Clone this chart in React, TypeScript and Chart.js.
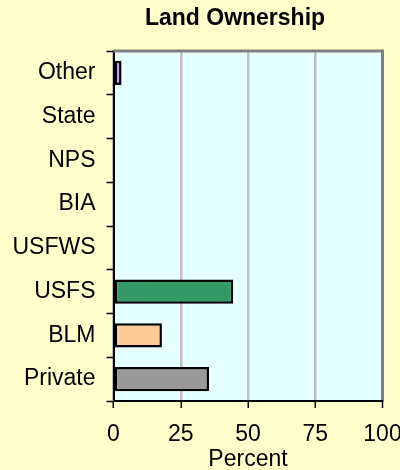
import React, { useEffect, useRef } from "react";
import { Chart, registerables } from "chart.js";

Chart.register(...registerables);

// ---- data ----
const categories = ["Private", "BLM", "USFS", "USFWS", "BIA", "NPS", "State", "Other"];
const percents = [35.5, 18, 44.5, 0, 0, 0, 0, 3];
const barColors = ["#999999", "#FFCC99", "#339966", "#3366FF", "#FFFF99", "#996633", "#FF9900", "#CC99FF"];
const xTickValues = [0, 25, 50, 75, 100];
const chartTitle = "Land Ownership";
const xAxisTitle = "Percent";

const FONT = "'Liberation Sans', Arial, sans-serif";

export default function App() {
  const ref = useRef<HTMLCanvasElement | null>(null);

  useEffect(() => {
    if (!ref.current) return;

    const plotBackground = {
      id: "plotBackground",
      beforeDraw(chart: any) {
        const { ctx, chartArea } = chart;
        ctx.save();
        ctx.fillStyle = "#FFFFCC";
        ctx.fillRect(0, 0, chart.width, chart.height);
        ctx.fillStyle = "#E6FFFF";
        ctx.fillRect(chartArea.left, chartArea.top, chartArea.right - chartArea.left, chartArea.bottom - chartArea.top);
        ctx.restore();
      },
      beforeDatasetsDraw(chart: any) {
        const { ctx, chartArea } = chart;
        ctx.save();
        ctx.strokeStyle = "#808080";
        ctx.lineWidth = 3;
        ctx.beginPath();
        ctx.moveTo(chartArea.left, chartArea.top);
        ctx.lineTo(chartArea.right + 1.5, chartArea.top);
        ctx.stroke();
        ctx.restore();
      },
      afterDraw(chart: any) {
        const { ctx } = chart;
        ctx.save();
        ctx.fillStyle = "#000";
        ctx.font = `bold 23px ${FONT}`;
        ctx.textAlign = "center";
        ctx.textBaseline = "middle";
        ctx.fillText(chartTitle, 235, 19);
        ctx.restore();
      },
    };

    const chart = new Chart(ref.current, {
      type: "bar",
      data: {
        labels: categories,
        datasets: [
          {
            data: percents,
            backgroundColor: barColors,
            borderColor: "#000000",
            borderWidth: 2.5,
            borderSkipped: false,
            categoryPercentage: 1,
            barPercentage: 0.55,
          },
        ],
      },
      options: {
        indexAxis: "y",
        animation: false,
        responsive: false,
        devicePixelRatio: 1,
        layout: { padding: { top: 51, left: 0, right: 0, bottom: 0 } },
        plugins: {
          legend: { display: false },
          title: { display: false },
          tooltip: { enabled: false },
        },
        scales: {
          x: {
            type: "linear",
            position: "bottom",
            min: 0,
            max: 100,
            afterBuildTicks(scale: any) {
              scale.ticks = xTickValues.map((v) => ({ value: v }));
            },
            afterFit(scale: any) {
              scale.paddingRight = 17.5;
              scale.height = 69;
            },
            ticks: {
              color: "#000",
              font: { family: FONT, size: 23 },
              padding: 13,
            },
            grid: {
              color: (c: any) => (c.tick && c.tick.value === 100 ? "#808080" : "#C0C0C0"),
              lineWidth: (c: any) => (c.tick && c.tick.value === 100 ? 3 : 2.5),
              tickColor: "#000",
              tickLength: 7,
              tickWidth: 1.5,
            },
            border: { color: "#000", width: 2 },
            title: {
              display: true,
              text: xAxisTitle,
              color: "#000",
              font: { family: FONT, size: 23 },
              padding: { top: 0, bottom: -3 },
            },
          },
          y: {
            type: "category",
            position: "left",
            reverse: true,
            afterFit(scale: any) {
              scale.width = 113.5;
            },
            ticks: {
              color: "#000",
              font: { family: FONT, size: 23 },
              padding: 11,
            },
            grid: {
              drawOnChartArea: false,
              offset: true,
              tickColor: "#000",
              tickLength: 7,
              tickWidth: 1.5,
            },
            border: { color: "#000", width: 2 },
          },
        },
      },
      plugins: [plotBackground],
    } as any);

    return () => chart.destroy();
  }, []);

  return (
    <div
      style={{
        position: "fixed",
        left: 0,
        top: 0,
        width: 400,
        height: 470,
        overflow: "hidden",
        background: "#FFFFCC",
      }}
    >
      <canvas ref={ref} width={400} height={470} style={{ display: "block" }} />
    </div>
  );
}
